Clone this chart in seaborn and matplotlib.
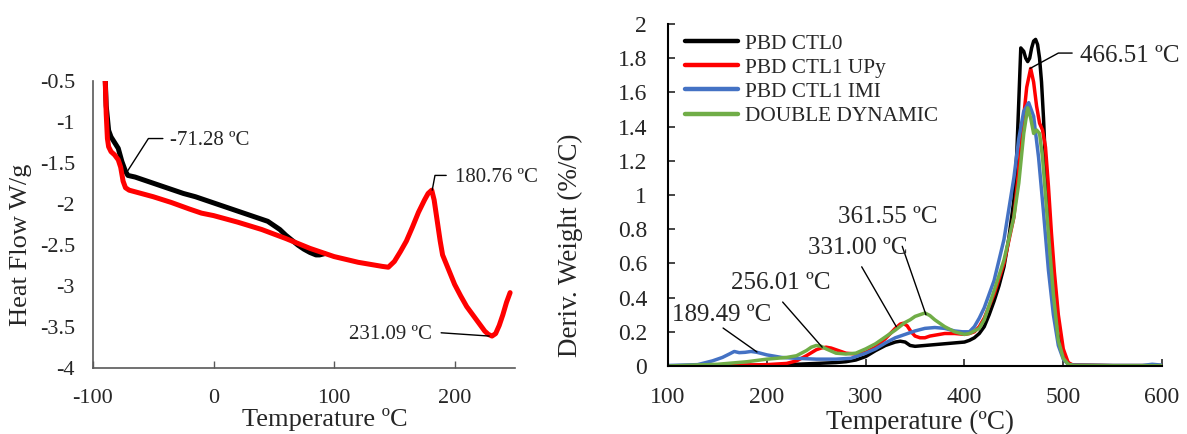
"""DSC heat flow (left) and DTG derivative weight (right) for the PBD networks."""
import pandas as pd
import seaborn as sns
import matplotlib
matplotlib.use("Agg")
import matplotlib.pyplot as plt
from matplotlib.ticker import FuncFormatter

# --- DSC curves (left panel) ---
dsc_black_T = [-90, -89, -87, -85, -82, -79, -76, -73, -71, -65, -55, -45, -35, -25, -15, -5, 5, 15,
               25, 35, 45, 50, 55, 60, 65, 70, 75, 80, 85, 88, 92]
dsc_black_hf = [-0.4, -0.8, -1.1, -1.18, -1.25, -1.32, -1.48, -1.6, -1.65, -1.67, -1.72, -1.77, -1.82,
                -1.87, -1.91, -1.96, -2.01, -2.06, -2.11, -2.16, -2.21, -2.26, -2.31, -2.38, -2.44,
                -2.50, -2.55, -2.59, -2.62, -2.62, -2.605]
dsc_red_T = [-90, -89, -88, -87, -85, -82, -79, -77, -75, -73, -70, -65, -50, -35, -20, -10, 0, 20, 40,
             60, 80, 100, 120, 140, 145, 150, 155, 160, 165, 170, 175, 178, 181, 183, 185, 188, 190,
             195, 200, 205, 210, 215, 220, 225, 228, 231, 234, 237, 240, 243, 246]
dsc_red_hf = [-0.4, -0.9, -1.2, -1.3, -1.36, -1.4, -1.46, -1.55, -1.72, -1.8, -1.83, -1.85, -1.91,
              -1.98, -2.06, -2.11, -2.14, -2.22, -2.31, -2.42, -2.54, -2.64, -2.71, -2.76, -2.77,
              -2.70, -2.58, -2.45, -2.28, -2.1, -1.95, -1.87, -1.83, -1.95, -2.15, -2.45, -2.62,
              -2.80, -2.98, -3.12, -3.25, -3.35, -3.45, -3.55, -3.59, -3.61, -3.58, -3.48, -3.35,
              -3.2, -3.08]

# --- DTG curves (right panel) ---
ctl0_T = [100, 150, 200, 230, 250, 270, 280, 290, 300, 310, 320, 330, 335, 340, 345, 350, 360, 370,
          380, 390, 400, 405, 410, 415, 420, 425, 430, 435, 440, 445, 450, 453, 455, 457, 460, 462,
          464, 466, 468, 470, 472, 474, 476, 478, 480, 483, 486, 490, 494, 498, 502, 506, 510, 550, 600]
ctl0_dw = [0, 0.002, 0.005, 0.01, 0.015, 0.02, 0.025, 0.035, 0.055, 0.09, 0.12, 0.14, 0.145, 0.14,
           0.12, 0.115, 0.12, 0.125, 0.13, 0.135, 0.14, 0.15, 0.165, 0.19, 0.23, 0.3, 0.38, 0.47,
           0.58, 0.75, 0.97, 1.25, 1.55, 1.86, 1.84, 1.80, 1.78, 1.80, 1.86, 1.9, 1.91, 1.88, 1.80,
           1.66, 1.45, 1.05, 0.75, 0.40, 0.2, 0.09, 0.04, 0.01, 0.005, 0.002, 0.002]
upy_T = [100, 150, 200, 220, 230, 240, 250, 255, 260, 265, 270, 280, 290, 300, 310, 320, 325, 330,
         335, 338, 342, 346, 350, 355, 360, 365, 370, 380, 390, 400, 405, 410, 415, 420, 430, 440,
         450, 455, 460, 463, 467, 470, 473, 476, 479, 482, 485, 488, 491, 495, 500, 505, 510, 550, 600]
upy_dw = [0, 0.002, 0.008, 0.015, 0.03, 0.06, 0.095, 0.105, 0.11, 0.105, 0.095, 0.075, 0.07, 0.08,
          0.11, 0.16, 0.19, 0.22, 0.245, 0.25, 0.235, 0.2, 0.175, 0.165, 0.165, 0.175, 0.18, 0.19,
          0.19, 0.185, 0.19, 0.2, 0.23, 0.28, 0.42, 0.6, 0.87, 1.15, 1.46, 1.63, 1.74, 1.66, 1.52,
          1.42, 1.38, 1.28, 1.05, 0.78, 0.55, 0.3, 0.1, 0.02, 0.005, 0.002, 0.002]
imi_T = [100, 130, 145, 155, 162, 167, 172, 178, 184, 190, 200, 215, 230, 250, 270, 285, 300, 310,
         320, 330, 340, 350, 360, 370, 380, 390, 398, 405, 410, 415, 420, 430, 440, 450, 455, 460,
         465, 470, 475, 480, 485, 490, 495, 500, 505, 510, 550, 580, 590, 600]
imi_dw = [0.003, 0.008, 0.03, 0.05, 0.07, 0.085, 0.078, 0.08, 0.085, 0.08, 0.065, 0.05, 0.045, 0.04,
          0.04, 0.045, 0.075, 0.1, 0.135, 0.165, 0.185, 0.205, 0.22, 0.225, 0.22, 0.205, 0.2, 0.2,
          0.23, 0.28, 0.34, 0.5, 0.74, 1.1, 1.33, 1.49, 1.54, 1.46, 1.22, 0.9, 0.56, 0.3, 0.12,
          0.04, 0.01, 0.005, 0.003, 0.003, 0.01, 0.005]
dd_T = [100, 150, 180, 200, 220, 230, 240, 245, 250, 255, 260, 270, 280, 290, 300, 310, 320, 330,
        340, 345, 350, 355, 360, 365, 370, 380, 390, 400, 405, 410, 415, 420, 430, 440, 450, 455,
        460, 464, 467, 470, 473, 476, 479, 482, 486, 490, 495, 500, 505, 510, 550, 600]
dd_dw = [0, 0.01, 0.025, 0.04, 0.05, 0.06, 0.09, 0.11, 0.12, 0.115, 0.1, 0.075, 0.07, 0.075, 0.1,
         0.13, 0.17, 0.21, 0.255, 0.27, 0.29, 0.30, 0.31, 0.295, 0.27, 0.23, 0.2, 0.185, 0.19, 0.205,
         0.22, 0.27, 0.44, 0.62, 0.87, 1.07, 1.36, 1.51, 1.45, 1.36, 1.38, 1.36, 1.22, 1.0, 0.7,
         0.42, 0.15, 0.045, 0.01, 0.003, 0.002, 0.002]

series_names = ["PBD CTL0", "PBD CTL1 UPy", "PBD CTL1 IMI", "DOUBLE DYNAMIC"]
series_colors = ["#000000", "#FF0000", "#4472C4", "#70AD47"]

# annotation labels: (text, text x, text y, leader points)
dsc_notes = [
    ("-71.28 ºC", -36, -1.22, [(-71, -1.59), (-54, -1.20), (-42, -1.20)]),
    ("180.76 ºC", 200.6, -1.67, [(181.4, -1.83), (183.7, -1.65), (193, -1.65)]),
]
dsc_note_right = ("231.09 ºC", 181.4, -3.59, [(188.8, -3.57), (228.7, -3.61)])
dtg_notes = [
    ("466.51 ºC", 517, 1.81, [(466.4, 1.74), (495, 1.83), (509, 1.83)]),
    ("361.55 ºC", 272, 0.87, [(337, 0.70), (361, 0.30)]),
    ("331.00 ºC", 242, 0.69, [(296, 0.58), (331, 0.23)]),
    ("256.01 ºC", 164, 0.485, [(216, 0.374), (256, 0.11)]),
    ("189.49 ºC", 104, 0.30, [(155.7, 0.222), (190, 0.082)]),
]

sns.set_style("ticks")
plt.rcParams["font.family"] = ["Liberation Serif", "DejaVu Serif"]
plt.rcParams["axes.unicode_minus"] = False

fig = plt.figure(figsize=(11.87, 4.34), dpi=100)
ax1 = fig.add_axes([0.0783, 0.152, 0.3555, 0.661])
ax2 = fig.add_axes([0.5628, 0.1567, 0.4162, 0.788])
fmt = FuncFormatter(lambda v, p: f"{v:g}")

# left: DSC
sns.lineplot(x=dsc_black_T, y=dsc_black_hf, color="black", lw=3.6, estimator=None, ax=ax1)
sns.lineplot(x=dsc_red_T, y=dsc_red_hf, color="#FF0000", lw=3.6, estimator=None, ax=ax1)
ax1.set_xlim(-100, 250)
ax1.set_ylim(-4, -0.5)
ax1.set_xticks([-100, 0, 100, 200])
ax1.set_yticks([-4, -3.5, -3, -2.5, -2, -1.5, -1, -0.5])
ax1.yaxis.set_major_formatter(fmt)
ax1.tick_params(axis="x", direction="in", length=5, width=1, color="#595959", labelsize=16, pad=15)
ax1.tick_params(axis="y", length=0, labelsize=16, pad=13)
for s in ["top", "right"]:
    ax1.spines[s].set_visible(False)
for s in ["left", "bottom"]:
    ax1.spines[s].set_color("#595959")
    ax1.spines[s].set_linewidth(1.2)
ax1.set_xlabel("Temperature ºC", fontsize=19)
ax1.set_ylabel("Heat Flow W/g", fontsize=19)
ax1.xaxis.set_label_coords(0.55, -0.14)
ax1.yaxis.set_label_coords(-0.145, 0.43)
for txt, tx, ty, pts in dsc_notes:
    xs, ys = zip(*pts)
    ax1.plot(xs, ys, color="black", lw=1, clip_on=False)
    ax1.text(tx, ty, txt, fontsize=15, ha="left", va="center")
txt, tx, ty, pts = dsc_note_right
xs, ys = zip(*pts)
ax1.plot(xs, ys, color="black", lw=1)
ax1.text(tx, ty, txt, fontsize=15, ha="right", va="center")

# right: DTG
dtg = pd.concat([
    pd.DataFrame({"T": t, "dw": v, "series": n})
    for t, v, n in zip([ctl0_T, upy_T, imi_T, dd_T], [ctl0_dw, upy_dw, imi_dw, dd_dw], series_names)
])
sns.lineplot(data=dtg, x="T", y="dw", hue="series", hue_order=series_names,
             palette=series_colors, lw=2.5, estimator=None, sort=False, ax=ax2)
ax2.set_xlim(100, 600)
ax2.set_ylim(0, 2)
ax2.set_xticks(range(100, 601, 100))
ax2.set_yticks([i / 10 for i in range(0, 21, 2)])
ax2.yaxis.set_major_formatter(fmt)
ax2.tick_params(direction="in", length=5, width=1.2, labelsize=17, pad=15)
for s in ["top", "right"]:
    ax2.spines[s].set_visible(False)
for s in ["left", "bottom"]:
    ax2.spines[s].set_color("black")
    ax2.spines[s].set_linewidth(1.5)
ax2.set_xlabel("Temperature (ºC)", fontsize=19.5)
ax2.set_ylabel("Deriv. Weight (%/C)", fontsize=19.5)
ax2.xaxis.set_label_coords(0.51, -0.128)
ax2.yaxis.set_label_coords(-0.172, 0.354)
for txt, tx, ty, pts in dtg_notes:
    xs, ys = zip(*pts)
    ax2.plot(xs, ys, color="black", lw=1)
    ax2.text(tx, ty, txt, fontsize=18, ha="left", va="center")

leg = ax2.legend(loc="upper left", bbox_to_anchor=(0.022, 0.99), frameon=False, fontsize=15.3,
                 borderaxespad=0, borderpad=0.3, handlelength=2.5, handletextpad=0.3,
                 labelspacing=0.2)
for h in leg.get_lines():
    h.set_linewidth(3.2)

fig.savefig("out.png", dpi=100)
